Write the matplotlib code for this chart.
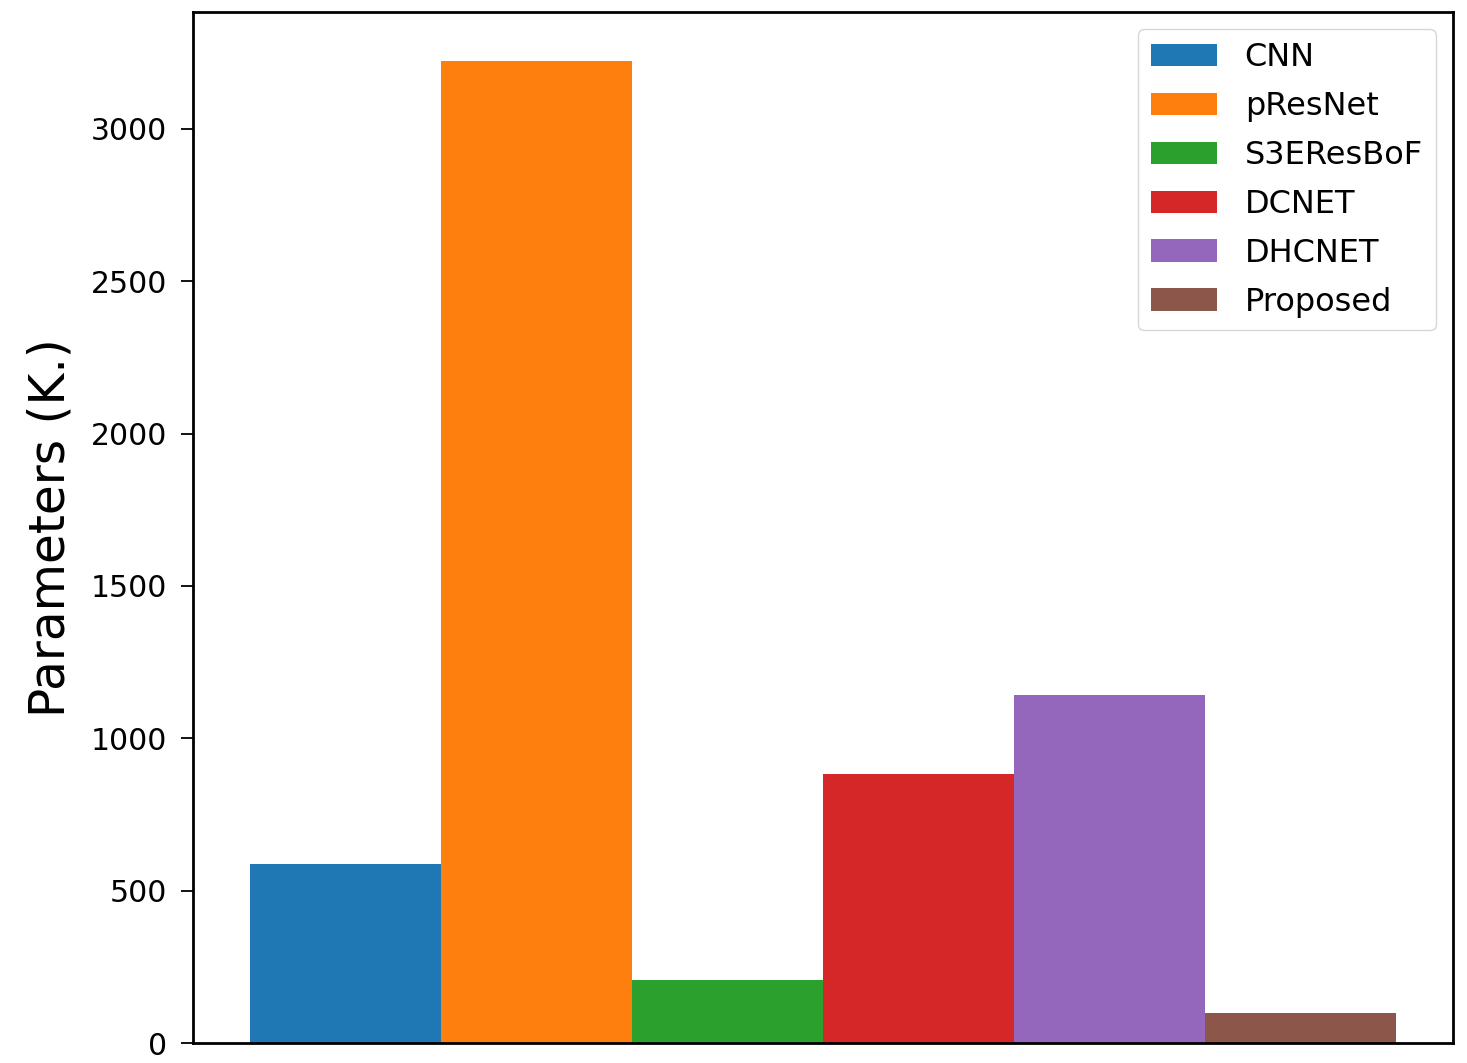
import matplotlib
matplotlib.use('Agg')
import matplotlib.pyplot as plt
import numpy as np

models = ['CNN', 'pResNet', 'S3EResBoF', 'DCNET', 'DHCNET', 'Proposed']
params = [588, 3223, 207, 882, 1141, 98]
colors = ['tab:blue', 'tab:orange', 'tab:green', 'tab:red', 'tab:purple', 'tab:brown']

fig = plt.figure(figsize=(14.67, 10.63), dpi=100)
ax = fig.add_axes([0.1316, 0.0188, 0.859, 0.97])

for i, (m, p) in enumerate(zip(models, params)):
    ax.bar(i, p, width=1, color=colors[i], label=m)

ax.set_xticks([])
ax.set_ylabel('Parameters (K.)', fontsize=35, labelpad=12)
ax.tick_params(axis='y', labelsize=21.5, length=8.5, width=1.3, pad=10)
for s in ax.spines.values():
    s.set_linewidth(2)
ax.legend(fontsize=23, handlelength=2.07, handletextpad=0.88, labelspacing=0.56,
          loc='upper right', borderaxespad=0.55)

plt.savefig('out.png', dpi=100)
